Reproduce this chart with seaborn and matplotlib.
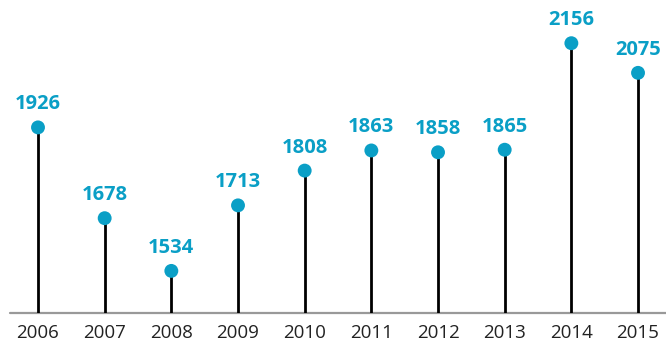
import matplotlib
matplotlib.use("Agg")
import matplotlib.pyplot as plt
import seaborn as sns
import pandas as pd

years = ["2006", "2007", "2008", "2009", "2010", "2011", "2012", "2013", "2014", "2015"]
values = [1926, 1678, 1534, 1713, 1808, 1863, 1858, 1865, 2156, 2075]

dot_color = "#0a9fc6"
df = pd.DataFrame({"year": years, "value": values, "pos": range(len(years))})

sns.set_theme(style="white")
plt.rcParams["font.family"] = ["Open Sans", "DejaVu Sans"]

W, H = 666, 344
fig = plt.figure(figsize=(W / 100, H / 100), dpi=100)
base_px = 313
ax = fig.add_axes([0, 1 - base_px / H, 1, base_px / H])

step = 66.67
x0 = 38
ax.set_xlim(-x0 / step, (W - x0) / step)
ymin, ymax = 1419, 2274
ax.set_ylim(ymin, ymax)

# stems
ax.vlines(df["pos"], ymin, df["value"], color="black", linewidth=2.0, zorder=2)
# dots
sns.scatterplot(data=df, x="pos", y="value", ax=ax, color=dot_color, s=100,
                edgecolor="none", zorder=3, legend=False)

# value labels
px_per_unit = base_px / (ymax - ymin)
for p, v in zip(df["pos"], df["value"]):
    ax.text(p, v + 23 / px_per_unit, str(v), ha="center", va="center",
            fontsize=14.5, fontweight="bold", color=dot_color)

# baseline
ax.axhline(ymin, xmin=10 / W, xmax=1, color="#999999", linewidth=1.6,
           zorder=1, clip_on=False)

ax.set_xticks(list(df["pos"]))
ax.set_xticklabels(years, fontsize=13.5, color="#222222")
ax.tick_params(axis="x", length=0, pad=8)
ax.set_yticks([])
ax.set_xlabel("")
ax.set_ylabel("")
for s in ax.spines.values():
    s.set_visible(False)

fig.savefig("out.png", dpi=100)
